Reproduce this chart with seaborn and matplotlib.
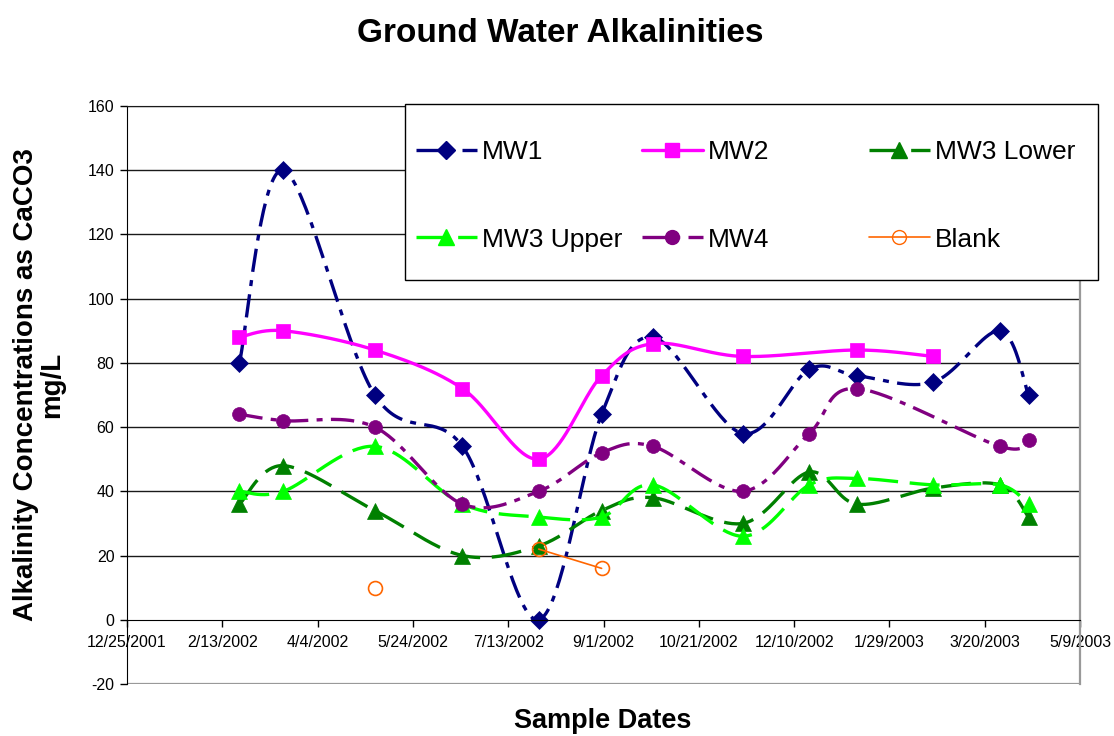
import numpy as np
import pandas as pd
import matplotlib
matplotlib.use('Agg')
import matplotlib.pyplot as plt
import matplotlib.dates as mdates
from matplotlib.lines import Line2D
from matplotlib.patches import Rectangle
import seaborn as sns

nan = np.nan

# Sample dates (shared by every well)
sample_dates = ['2002-02-22', '2002-03-17', '2002-05-04', '2002-06-19', '2002-07-29',
                '2002-08-31', '2002-09-27', '2002-11-13', '2002-12-18', '2003-01-12',
                '2003-02-21', '2003-03-28', '2003-04-12']

# Alkalinity as CaCO3, mg/L
mw1 = [80, 140, 70, 54, 0, 64, 88, 58, 78, 76, 74, 90, 70]
mw2 = [88, 90, 84, 72, 50, 76, 86, 82, nan, 84, 82, nan, nan]
mw3_lower = [36, 48, 34, 20, 23, 34, 38, 30, 46, 36, 41, 42, 32]
mw3_upper = [40, 40, 54, 36, 32, 32, 42, 26, 42, 44, 42, 42, 36]
mw4 = [64, 62, 60, 36, 40, 52, 54, 40, 58, 72, nan, 54, 56]
blank = [nan, nan, 10, nan, 22, 16, nan, nan, nan, nan, nan, nan, nan]

series_names = ['MW1', 'MW2', 'MW3 Lower', 'MW3 Upper', 'MW4', 'Blank']
series_values = [mw1, mw2, mw3_lower, mw3_upper, mw4, blank]

axis_start = '2001-12-25'
axis_end = '2003-05-09'
tick_step_days = 50

styles = {
    'MW1': dict(color='#000080', ls=(0, (7, 2.5, 1.8, 2.5)), lw=2.4, marker='D', ms=9, fill=True, span=True),
    'MW2': dict(color='#FF00FF', ls='-', lw=2.4, marker='s', ms=10, fill=True, span=True),
    'MW3 Lower': dict(color='#008000', ls=(0, (9, 3.5)), lw=2.4, marker='^', ms=11, fill=True, span=True),
    'MW3 Upper': dict(color='#00FF00', ls=(0, (9, 3.5)), lw=2.4, marker='^', ms=11, fill=True, span=True),
    'MW4': dict(color='#800080', ls=(0, (7, 2.5, 1.8, 2.5)), lw=2.4, marker='o', ms=10, fill=True, span=True),
    'Blank': dict(color='#FF6600', ls='-', lw=1.2, marker='o', ms=10, fill=False, span=False),
}

PX_DAY = 1.9   # screen scale, used for Excel-like smoothing
PX_UNIT = 3.21


def smooth_curve(x, y, n=40):
    pts = np.column_stack([np.asarray(x) * PX_DAY, np.asarray(y) * PX_UNIT])
    if len(pts) < 2:
        return np.asarray(x), np.asarray(y)
    out = []
    t = np.linspace(0, 1, n)[:, None]
    for i in range(len(pts) - 1):
        p0 = pts[max(i - 1, 0)]
        p1 = pts[i]
        p2 = pts[i + 1]
        p3 = pts[min(i + 2, len(pts) - 1)]
        c1 = p1 + (p2 - p0) / 6
        c2 = p2 - (p3 - p1) / 6
        seg = (1 - t) ** 3 * p1 + 3 * (1 - t) ** 2 * t * c1 + 3 * (1 - t) * t ** 2 * c2 + t ** 3 * p2
        out.append(seg if i == 0 else seg[1:])
    out = np.vstack(out)
    return out[:, 0] / PX_DAY, out[:, 1] / PX_UNIT


def segments(x, y, span):
    mask = ~np.isnan(y)
    if span:
        return [(x[mask], y[mask])]
    segs, cur = [], []
    for xi, yi, ok in zip(x, y, mask):
        if ok:
            cur.append((xi, yi))
        elif cur:
            segs.append(cur)
            cur = []
    if cur:
        segs.append(cur)
    return [(np.array([p[0] for p in s]), np.array([p[1] for p in s])) for s in segs]


sns.set_style('white')
plt.rcParams['font.family'] = ['Liberation Sans', 'DejaVu Sans']
plt.rcParams['axes.unicode_minus'] = False
plt.rcParams['text.color'] = 'black'
plt.rcParams['xtick.color'] = 'black'
plt.rcParams['ytick.color'] = 'black'

fig = plt.figure(figsize=(11.14, 7.36), dpi=100)
ax = fig.add_axes([0.114, 0.0707, 0.8555, 0.7853])

x_dates = mdates.date2num(pd.to_datetime(sample_dates))
handles = []
for i, (name, vals) in enumerate(zip(series_names, series_values)):
    st = styles[name]
    z = 2 + i * 0.1
    y = np.array(vals, dtype=float)
    for sx, sy in segments(x_dates, y, st['span']):
        if len(sx) > 1:
            cx, cy = smooth_curve(sx, sy)
            sns.lineplot(x=cx, y=cy, sort=False, estimator=None, ax=ax, color=st['color'],
                         linewidth=st['lw'], linestyle=st['ls'], zorder=z)
    face = st['color'] if st['fill'] else 'none'
    ax.plot(x_dates, y, linestyle='none', marker=st['marker'], ms=st['ms'],
            mfc=face, mec=st['color'], mew=1.2 if not st['fill'] else 0.5, zorder=z + 0.05)
    handles.append(Line2D([0], [0], color=st['color'], lw=st['lw'], linestyle=st['ls'],
                          marker=st['marker'], ms=st['ms'], mfc=face, mec=st['color']))

# Axes in the Excel manner
x0 = mdates.date2num(pd.Timestamp(axis_start))
x1 = mdates.date2num(pd.Timestamp(axis_end))
ax.set_xlim(x0, x1)
ax.set_ylim(-20, 160)
ax.set_xticks(np.arange(x0, x1 + 1, tick_step_days))
ax.xaxis.set_major_formatter(plt.FuncFormatter(
    lambda v, p: '{d.month}/{d.day}/{d.year}'.format(d=mdates.num2date(v))))
ax.set_yticks(np.arange(-20, 161, 20))

for v in ax.get_yticks():
    if v > 0:
        ax.axhline(v, color='#1a1a1a', lw=1.0, zorder=0.5)
ax.axhline(-20, color='#999999', lw=1.6, zorder=0.5)

ax.spines['bottom'].set_position(('data', 0))
ax.spines['bottom'].set_color('black')
ax.spines['left'].set_color('black')
ax.spines['top'].set_color('#1a1a1a')
ax.spines['right'].set_color('#999999')
ax.spines['right'].set_linewidth(1.6)
ax.tick_params(axis='x', direction='out', length=5, width=1, pad=6, labelsize=11.5, bottom=True)
ax.tick_params(axis='y', direction='out', length=5, width=1, pad=4, labelsize=11.5, left=True)
ax.set_xlabel('')
ax.set_ylabel('')

fig.text(560 / 1114, 1 - 33 / 736, 'Ground Water Alkalinities', ha='center', va='center',
         fontsize=24, fontweight='bold')
fig.text(603 / 1114, 1 - 721 / 736, 'Sample Dates', ha='center', va='center',
         fontsize=19.5, fontweight='bold')
fig.text(39 / 1114, 1 - 385 / 736, 'Alkalinity Concentrations as CaCO3\nmg/L', ha='center',
         va='center', rotation=90, fontsize=20, fontweight='bold', multialignment='center',
         linespacing=1.0)

# Legend: white framed box with three equal columns, filled row by row
fig.patches.append(Rectangle((405 / 1114, 1 - 280 / 736), 693 / 1114, 176 / 736,
                             transform=fig.transFigure, facecolor='white', edgecolor='black',
                             linewidth=1.0, zorder=3))
col_starts = [416, 642, 869]
for c, xs in enumerate(col_starts):
    fig.legend([handles[c], handles[c + 3]], [series_names[c], series_names[c + 3]],
               loc='center left', bbox_to_anchor=(xs / 1114, 1 - 196 / 736),
               frameon=False, fontsize=19,
               handlelength=2.3, handletextpad=0.2, borderpad=0, borderaxespad=0,
               labelspacing=2.4)

fig.savefig('out.png', dpi=100)
